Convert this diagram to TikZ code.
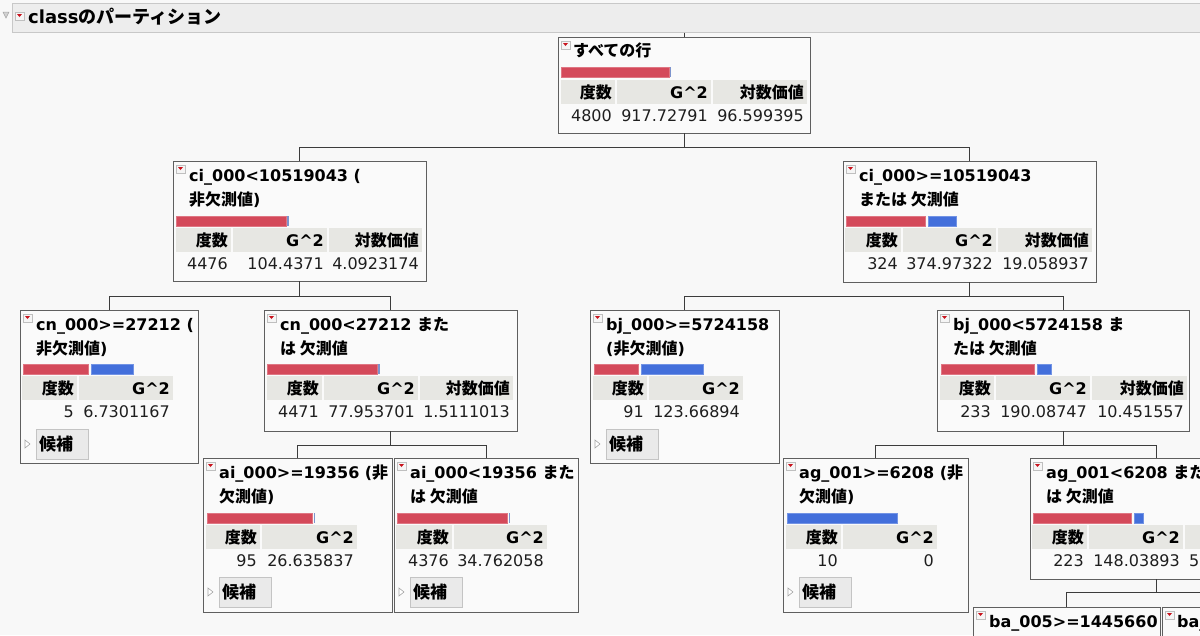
\documentclass[tikz,border=0pt]{standalone}
\usepackage{fontspec}
\setmainfont{DejaVu Sans}
\newfontfamily\jp{Noto Sans CJK JP}
\usetikzlibrary{fit}

\definecolor{bgcol}{RGB}{248,248,248}
\definecolor{boxfill}{RGB}{250,250,250}
\definecolor{boxline}{RGB}{95,95,95}
\definecolor{linkcol}{RGB}{60,60,60}
\definecolor{hdrfill}{RGB}{231,231,227}
\definecolor{barred}{RGB}{212,73,90}
\definecolor{barblue}{RGB}{67,111,219}
\definecolor{thinblue}{RGB}{125,148,205}
\definecolor{headfill}{RGB}{237,237,237}
\definecolor{headline}{RGB}{200,200,200}
\definecolor{iconred}{RGB}{200,20,30}
\definecolor{btnfill}{RGB}{234,234,234}
\definecolor{btnline}{RGB}{196,196,196}
\definecolor{valtext}{RGB}{30,30,30}

\newcommand{\fs}{\fontsize{16}{19}\selectfont}

\tikzset{
  tbox/.style={draw=boxline, line width=0.9pt, fill=boxfill, inner sep=0pt},
  thead/.style={draw=headline, line width=1pt, fill=headfill, inner sep=0pt},
  link/.style={draw=linkcol, line width=1pt},
  hdr/.style={fill=hdrfill},
  red bar/.style={fill=barred, draw=barred!75!white, line width=0.6pt},
  blue bar/.style={fill=barblue, draw=barblue!75!white, line width=0.6pt},
  thin bar/.style={fill=thinblue},
  ttl/.style={anchor=base west, inner sep=0pt, font=\fs\bfseries},
  hd/.style={anchor=base east, inner sep=0pt, font=\fs\bfseries},
  val/.style={anchor=base east, inner sep=0pt, font=\fs, text=valtext},
  btn/.style={fill=btnfill, draw=btnline, line width=0.8pt},
  btntxt/.style={anchor=base west, inner sep=0pt, font=\fontsize{17}{20}\selectfont\bfseries\jp},
  opener/.style={draw=gray!70, fill=white, line width=0.6pt},
}

% small red menu icon in the top-left corner of a box
\newcommand{\icon}[2]{%
  \filldraw[fill=white!92!gray, draw=gray!50, line width=0.6pt] (#1+3,#2+4) rectangle (#1+12,#2+12);
  \fill[iconred] (#1+5,#2+6) -- (#1+10,#2+6) -- (#1+7.5,#2+9) -- cycle;}
% header cell: name, x1, x2, top, text
\newcommand{\hcell}[5]{%
  \fill[hdr] (#2,#4) rectangle (#3,#4+24);
  \node[hd] (#1) at (#3-3,#4+18) {#5};}
% candidates button under a leaf: name, left, top
\newcommand{\cand}[3]{%
  \filldraw[btn] (#2+16,#3+119) rectangle (#2+68,#3+149);
  \draw[opener] (#2+5,#3+130) -- (#2+10,#3+134) -- (#2+5,#3+138) -- cycle;
  \node[btntxt] (#1) at (#2+19,#3+140) {候補};}

\begin{document}
\begin{tikzpicture}[x=1pt,y=-1pt]
\useasboundingbox (0,0) rectangle (1200,635);
\fill[bgcol] (0,0) rectangle (1200,635);
\clip (0,0) rectangle (1200,635);

% report title bar
\node[thead, fit={(12,3) (1215,32)}] (head) {};
\filldraw[fill=gray!35, draw=gray!70, line width=0.5pt] (3,12) -- (9,12) -- (6,18) -- cycle;
\icon{12}{8}
\node[ttl, font=\fontsize{18}{21}\selectfont\bfseries] (headtxt) at (28,23) {class{\jp のパーティション}};

% all rows
\node[tbox, fit={(558,37) (810,133)}] (root) {};
\icon{558}{37}
\node[ttl] (root-t) at (573,56) {\jp すべての行};
\filldraw[red bar] (561,67) rectangle (669,77);
\fill[thin bar] (669.5,67) rectangle (671,77);
\hcell{root-h1}{561}{615}{80}{\jp 度数}
\hcell{root-h2}{617}{711}{80}{G\textasciicircum 2}
\hcell{root-h3}{713}{807}{80}{\jp 対数価値}
\node[val] (root-v1) at (612,121) {4800};
\node[val] (root-v2) at (708,121) {917.72791};
\node[val] (root-v3) at (804,121) {96.599395};

% ci_000 < 10519043
\node[tbox, fit={(173,161) (426,281)}] (ciL) {};
\icon{173}{161}
\node[ttl] (ciL-t1) at (189,181) {ci\_000<10519043 (};
\node[ttl] (ciL-t2) at (189,205) {{\jp 非欠測値})};
\filldraw[red bar] (176,216) rectangle (286,226);
\fill[thin bar] (287,216) rectangle (288.5,226);
\hcell{ciL-h1}{176}{231}{228}{\jp 度数}
\hcell{ciL-h2}{233}{327}{228}{G\textasciicircum 2}
\hcell{ciL-h3}{329}{422}{228}{\jp 対数価値}
\node[val] (ciL-v1) at (228,269) {4476};
\node[val] (ciL-v2) at (324,269) {104.4371};
\node[val] (ciL-v3) at (419,269) {4.0923174};

% ci_000 >= 10519043
\node[tbox, fit={(843,161) (1096,282)}] (ciR) {};
\icon{843}{161}
\node[ttl] (ciR-t1) at (859,181) {ci\_000>=10519043};
\node[ttl] (ciR-t2) at (859,205) {\jp または 欠測値};
\filldraw[red bar] (846,216) rectangle (925,226);
\filldraw[blue bar] (928,216) rectangle (956,226);
\hcell{ciR-h1}{845}{901}{228}{\jp 度数}
\hcell{ciR-h2}{903}{996}{228}{G\textasciicircum 2}
\hcell{ciR-h3}{998}{1092}{228}{\jp 対数価値}
\node[val] (ciR-v1) at (898,269) {324};
\node[val] (ciR-v2) at (993,269) {374.97322};
\node[val] (ciR-v3) at (1089,269) {19.058937};

% cn_000 >= 27212
\node[tbox, fit={(20,310) (198,463)}] (cnL) {};
\icon{20}{310}
\node[ttl] (cnL-t1) at (36,330) {cn\_000>=27212 (};
\node[ttl] (cnL-t2) at (36,354) {{\jp 非欠測値})};
\filldraw[red bar] (23,364) rectangle (88,374);
\filldraw[blue bar] (91,364) rectangle (133,374);
\hcell{cnL-h1}{22}{77}{376}{\jp 度数}
\hcell{cnL-h2}{79}{173}{376}{G\textasciicircum 2}
\node[val] (cnL-v1) at (74,417) {5};
\node[val] (cnL-v2) at (170,417) {6.7301167};
\cand{cnL-c}{20}{310}

% cn_000 < 27212
\node[tbox, fit={(264,310) (517,431)}] (cnR) {};
\icon{264}{310}
\node[ttl] (cnR-t1) at (280,330) {cn\_000<27212 {\jp また}};
\node[ttl] (cnR-t2) at (280,354) {\jp は 欠測値};
\filldraw[red bar] (267,364) rectangle (377,374);
\fill[thin bar] (378,364) rectangle (379.5,374);
\hcell{cnR-h1}{267}{322}{376}{\jp 度数}
\hcell{cnR-h2}{324}{418}{376}{G\textasciicircum 2}
\hcell{cnR-h3}{420}{513}{376}{\jp 対数価値}
\node[val] (cnR-v1) at (319,417) {4471};
\node[val] (cnR-v2) at (415,417) {77.953701};
\node[val] (cnR-v3) at (510,417) {1.5111013};

% ai_000 >= 19356
\node[tbox, fit={(203,458) (392,612)}] (aiL) {};
\icon{203}{458}
\node[ttl] (aiL-t1) at (219,478) {ai\_000>=19356 ({\jp 非}};
\node[ttl] (aiL-t2) at (219,502) {{\jp 欠測値})};
\filldraw[red bar] (207,513) rectangle (312,523);
\fill[thin bar] (313.5,513) rectangle (315,523);
\hcell{aiL-h1}{206}{260}{525}{\jp 度数}
\hcell{aiL-h2}{262}{357}{525}{G\textasciicircum 2}
\node[val] (aiL-v1) at (257,566) {95};
\node[val] (aiL-v2) at (354,566) {26.635837};
\cand{aiL-c}{203}{458}

% ai_000 < 19356
\node[tbox, fit={(394,458) (578,612)}] (aiR) {};
\icon{394}{458}
\node[ttl] (aiR-t1) at (410,478) {ai\_000<19356 {\jp また}};
\node[ttl] (aiR-t2) at (410,502) {\jp は 欠測値};
\filldraw[red bar] (397,513) rectangle (507,523);
\fill[thin bar] (508.5,513) rectangle (510,523);
\hcell{aiR-h1}{396}{452}{525}{\jp 度数}
\hcell{aiR-h2}{454}{547}{525}{G\textasciicircum 2}
\node[val] (aiR-v1) at (449,566) {4376};
\node[val] (aiR-v2) at (544,566) {34.762058};
\cand{aiR-c}{394}{458}

% bj_000 >= 5724158
\node[tbox, fit={(590,310) (779,463)}] (bjL) {};
\icon{590}{310}
\node[ttl] (bjL-t1) at (606,330) {bj\_000>=5724158};
\node[ttl] (bjL-t2) at (606,354) {({\jp 非欠測値})};
\filldraw[red bar] (594,364) rectangle (638,374);
\filldraw[blue bar] (641,364) rectangle (703,374);
\hcell{bjL-h1}{593}{647}{376}{\jp 度数}
\hcell{bjL-h2}{649}{743}{376}{G\textasciicircum 2}
\node[val] (bjL-v1) at (644,417) {91};
\node[val] (bjL-v2) at (740,417) {123.66894};
\cand{bjL-c}{590}{310}

% bj_000 < 5724158
\node[tbox, fit={(937,310) (1189,431)}] (bjR) {};
\icon{937}{310}
\node[ttl] (bjR-t1) at (953,330) {bj\_000<5724158 {\jp ま}};
\node[ttl] (bjR-t2) at (953,354) {\jp たは 欠測値};
\filldraw[red bar] (941,364) rectangle (1034,374);
\filldraw[blue bar] (1037,364) rectangle (1051,374);
\hcell{bjR-h1}{940}{994}{376}{\jp 度数}
\hcell{bjR-h2}{996}{1090}{376}{G\textasciicircum 2}
\hcell{bjR-h3}{1092}{1187}{376}{\jp 対数価値}
\node[val] (bjR-v1) at (991,417) {233};
\node[val] (bjR-v2) at (1087,417) {190.08747};
\node[val] (bjR-v3) at (1184,417) {10.451557};

% ag_001 >= 6208
\node[tbox, fit={(783,458) (968,612)}] (agL) {};
\icon{783}{458}
\node[ttl] (agL-t1) at (799,478) {ag\_001>=6208 ({\jp 非}};
\node[ttl] (agL-t2) at (799,502) {{\jp 欠測値})};
\filldraw[blue bar] (787,513) rectangle (897,523);
\hcell{agL-h1}{786}{841}{525}{\jp 度数}
\hcell{agL-h2}{843}{937}{525}{G\textasciicircum 2}
\node[val] (agL-v1) at (838,566) {10};
\node[val] (agL-v2) at (934,566) {0};
\cand{agL-c}{783}{458}

% ag_001 < 6208 (runs off the right edge)
\node[tbox, fit={(1030,458) (1282,579)}] (agR) {};
\icon{1030}{458}
\node[ttl] (agR-t1) at (1046,478) {ag\_001<6208 {\jp また}};
\node[ttl] (agR-t2) at (1046,502) {\jp は 欠測値};
\filldraw[red bar] (1033,513) rectangle (1131,523);
\filldraw[blue bar] (1134,513) rectangle (1143,523);
\hcell{agR-h1}{1032}{1087}{525}{\jp 度数}
\hcell{agR-h2}{1089}{1183}{525}{G\textasciicircum 2}
\fill[hdr] (1185,525) rectangle (1280,549);
\node[val] (agR-v1) at (1084,566) {223};
\node[val] (agR-v2) at (1180,566) {148.03893};
\node[val, anchor=base west] (agR-v3) at (1189,566) {5};

% ba_005 splits, cut by the bottom edge
\node[tbox, fit={(973,607) (1160,680)}] (baL) {};
\icon{973}{607}
\node[ttl] (baL-t1) at (989,627) {ba\_005>=1445660};
\node[tbox, fit={(1162,607) (1350,680)}] (baR) {};
\icon{1162}{607}
\node[ttl] (baR-t1) at (1177,627) {ba\_};

% connectors
\draw[link] (root.north |- head.south) -- (root.north);
\draw[link] (root.south) -- ++(0,14) -| (ciL.north);
\draw[link] (root.south) -- ++(0,14) -| (ciR.north);
\draw[link] (ciL.south) -- ++(0,15) -| (cnL.north);
\draw[link] (ciL.south) -- ++(0,15) -| (cnR.north);
\draw[link] (ciR.south) -- ++(0,14) -| (bjL.north);
\draw[link] (ciR.south) -- ++(0,14) -| (bjR.north);
\draw[link] (cnR.south) -- ++(0,14) -| (aiL.north);
\draw[link] (cnR.south) -- ++(0,14) -| (aiR.north);
\draw[link] (bjR.south) -- ++(0,14) -| (agL.north);
\draw[link] (bjR.south) -- ++(0,14) -| (agR.north);
\draw[link] (agR.south) -- ++(0,13) -| (baL.north);
\draw[link] (agR.south) -- ++(0,13) -| (baR.north);
\end{tikzpicture}
\end{document}
